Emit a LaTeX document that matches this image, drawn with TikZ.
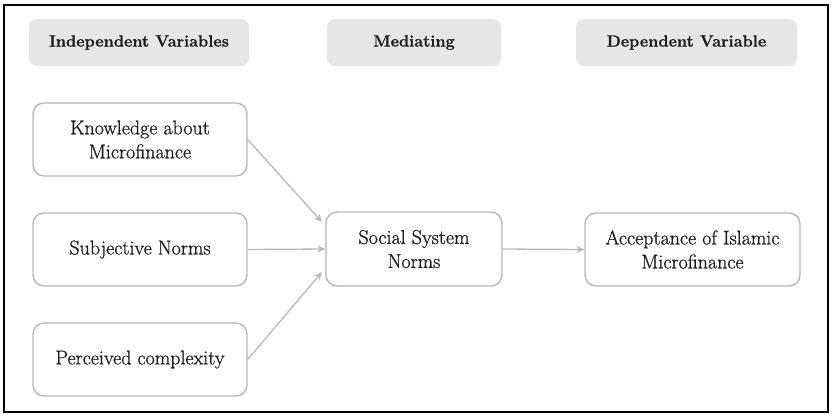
\documentclass[tikz,border=0pt]{standalone}
\usepackage{fontspec}
\newfontfamily\bodyfont{Latin Modern Roman}[FakeBold=0.9]
\newfontfamily\headfont{Latin Modern Roman}[FakeBold=1.0]
\usetikzlibrary{arrows.meta}
\definecolor{hdrfill}{HTML}{E6E6E8}
\definecolor{boxline}{HTML}{B4B4B4}
\definecolor{arrowc}{HTML}{B8B8B8}
\definecolor{txt}{HTML}{1E1E1E}
\begin{document}
\begin{tikzpicture}[x=1pt,y=-1pt,
  hdr/.style={fill=hdrfill,draw=none,rounded corners=8pt,inner sep=0pt,
    font=\headfont\bfseries\fontsize{16.3}{22}\selectfont,text=txt},
  varbox/.style={draw=boxline,line width=1.3pt,fill=white,rounded corners=11pt,inner sep=0pt,
    align=center,font=\bodyfont\fontsize{20}{24}\selectfont,text=txt},
  link/.style={draw=arrowc,line width=1.3pt,-{Stealth[length=8pt,width=7pt]}}]
\useasboundingbox (0,0) rectangle (833,418);
\draw[line width=1.2pt] (4,5) rectangle (828,412);
% headers
\node[hdr,minimum width=220pt,minimum height=47pt] (h1) at (139,42.5) {Independent Variables};
\node[hdr,minimum width=174pt,minimum height=47pt] (h2) at (414,42.5) {Mediating};
\node[hdr,minimum width=221pt,minimum height=47pt] (h3) at (686.5,42.5) {Dependent Variable};
% boxes
\node[varbox,minimum width=214pt,minimum height=73pt] (k) at (140,139.5) {Knowledge about\\Microfinance};
\node[varbox,minimum width=214pt,minimum height=73pt] (s) at (140,249.5) {Subjective Norms};
\node[varbox,minimum width=214pt,minimum height=73pt] (p) at (140,359.5) {Perceived complexity};
\node[varbox,minimum width=176pt,minimum height=74pt] (m) at (414,249) {Social System\\Norms};
\node[varbox,minimum width=215pt,minimum height=73pt] (a) at (692.5,249.5) {Acceptance of Islamic\\Microfinance};
% connectors
\coordinate (mt) at (322,222);
\coordinate (mb) at (322,272);
\draw[link] (k.east) -- (mt);
\draw[link] (s.east) -- (m.west);
\draw[link] (p.east) -- (mb);
\draw[link] (m.east) -- (a.west);
\end{tikzpicture}
\end{document}
